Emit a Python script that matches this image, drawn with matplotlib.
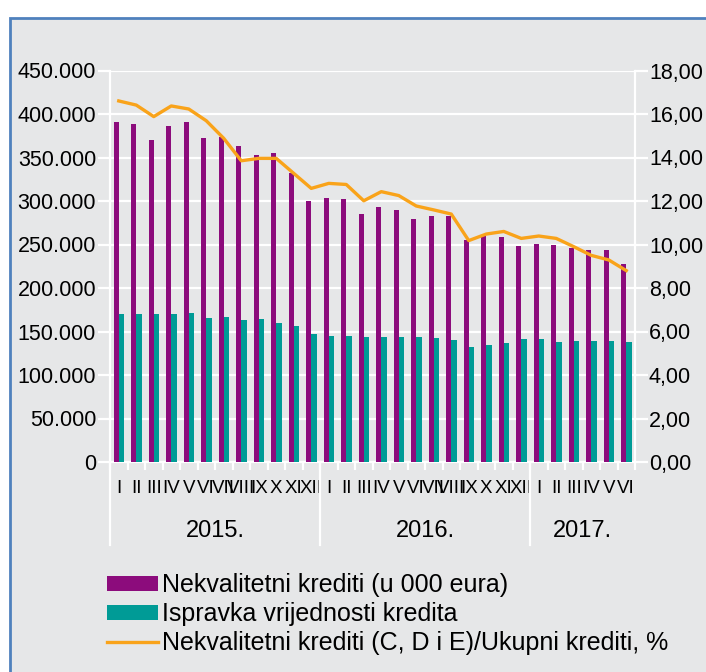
import numpy as np
import matplotlib
matplotlib.use("Agg")
import matplotlib.pyplot as plt
from matplotlib.patches import Rectangle, Patch
from matplotlib.lines import Line2D
import matplotlib.transforms as mtransforms

plt.rcParams['font.family'] = ['Liberation Sans', 'DejaVu Sans']

# monthly data, I.2015 - VI.2017
months = ['I', 'II', 'III', 'IV', 'V', 'VI', 'VII', 'VIII', 'IX', 'X', 'XI', 'XII',
          'I', 'II', 'III', 'IV', 'V', 'VI', 'VII', 'VIII', 'IX', 'X', 'XI', 'XII',
          'I', 'II', 'III', 'IV', 'V', 'VI']
years = ['2015.', '2016.', '2017.']
year_start = [0, 12, 24]
year_len = [12, 12, 6]

nekvalitetni = [391000, 389000, 370000, 386500, 391000, 372000, 374000, 363500, 353000, 355500,
                332500, 300000, 304000, 302000, 285000, 292700, 290000, 279000, 283000, 283000,
                255000, 260000, 259000, 248600, 251000, 249000, 246000, 243700, 243700, 228000]
ispravka = [170000, 169700, 169700, 169700, 171000, 166000, 167000, 163000, 164700, 159400,
            156000, 147000, 145000, 145000, 143700, 143300, 143300, 143700, 143000, 140600,
            131800, 134000, 137000, 141400, 141400, 137600, 139000, 138700, 139400, 138000]
udio = [16.60, 16.41, 15.88, 16.37, 16.23, 15.69, 14.88, 13.85, 13.96, 13.96,
        13.27, 12.58, 12.81, 12.76, 12.01, 12.43, 12.25, 11.77, 11.59, 11.40,
        10.18, 10.48, 10.60, 10.28, 10.39, 10.28, 9.90, 9.50, 9.29, 8.80]

purple = '#8c0c7c'
teal = '#009b96'
orange = '#f9a31a'
bg = '#e6e7e8'
fs = 15.5

fig = plt.figure(figsize=(7.06, 6.72), dpi=100)
fig.patch.set_facecolor('white')
fig.patches.append(Rectangle((10 / 706, -0.05), 1.0, 1 - 18 / 672 + 0.05, transform=fig.transFigure,
                             facecolor=bg, edgecolor='#4f81bd', linewidth=2, zorder=-5))

ax = fig.add_axes([110 / 706, 210 / 672, 525 / 706, 391.5 / 672])
ax.set_facecolor('none')
x = np.arange(len(months))

ax.bar(x + 0.355, nekvalitetni, width=0.31, color=purple, zorder=3)
ax.bar(x + 0.665, ispravka, width=0.31, color=teal, zorder=3)
ax.set_xlim(0, 30)
ax.set_ylim(0, 450000)
ax.set_yticks(np.arange(0, 450001, 50000))
ax.set_yticklabels([f'{v:,}'.replace(',', '.') if v else '0' for v in range(0, 450001, 50000)],
                   fontsize=fs)
ax.grid(axis='y', color='white', linewidth=1.6, zorder=1)
ax.set_axisbelow(True)
ax.tick_params(axis='y', color='white', length=9, width=1.6, pad=1)

# x ticks: boundaries as major, month names as minor
ax.set_xticks(np.arange(0, 31))
ax.set_xticklabels([])
ax.set_xticks(x + 0.5, minor=True)
ax.set_xticklabels(months, minor=True, fontsize=13.5)
ax.tick_params(axis='x', which='major', color='white', length=6, width=1.6)
ax.tick_params(axis='x', which='minor', length=0, pad=13)

for s in ax.spines.values():
    s.set_color('white')
    s.set_linewidth(1.6)
ax.spines['top'].set_visible(False)

trans = mtransforms.blended_transform_factory(ax.transData, ax.transAxes)
for ys, yl, lab in zip(year_start, year_len, years):
    ax.add_line(Line2D([ys, ys], [0, -83 / 391.5], transform=trans, color='white',
                       linewidth=1.6, clip_on=False))
    ax.text(ys + yl / 2, -69 / 391.5, lab, transform=trans, ha='center', va='center',
            fontsize=17)

ax2 = ax.twinx()
ax2.plot(x + 0.5, udio, color=orange, linewidth=2.4, zorder=4)
ax2.set_ylim(0, 18)
ax2.set_yticks(np.arange(0, 18.01, 2))
ax2.set_yticklabels([f'{v:.2f}'.replace('.', ',') for v in np.arange(0, 18.01, 2)], fontsize=fs)
ax2.tick_params(axis='y', color='white', length=9, width=1.6, pad=1)
for s in ax2.spines.values():
    s.set_visible(False)

handles = [Patch(facecolor=purple, edgecolor='none'),
           Patch(facecolor=teal, edgecolor='none'),
           Line2D([0], [0], color=orange, linewidth=2.4)]
labels = ['Nekvalitetni krediti (u 000 eura)', 'Ispravka vrijednosti kredita',
          'Nekvalitetni krediti (C, D i E)/Ukupni krediti, %']
fig.legend(handles, labels, loc='upper left', bbox_to_anchor=(97 / 706, 1 - 563 / 672),
           frameon=False, fontsize=18, handlelength=2.05, handleheight=0.55,
           handletextpad=0.15, labelspacing=0.2, borderaxespad=0)

fig.savefig('out.png', dpi=100, facecolor=fig.get_facecolor())
